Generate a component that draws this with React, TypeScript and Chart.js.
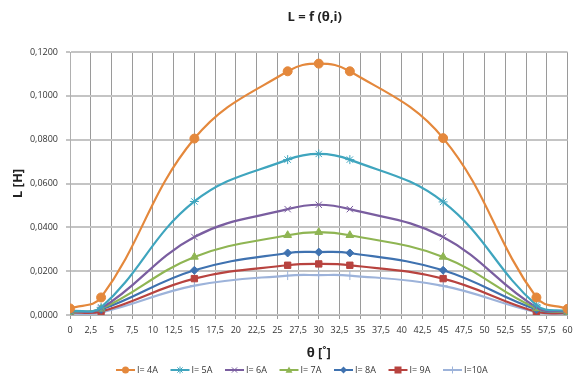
import React, { useEffect, useRef } from "react";
import { Chart, registerables } from "chart.js";

Chart.register(...registerables);

const thetaValues = [0, 3.75, 15, 26.25, 30, 33.75, 45, 56.25, 60];
const seriesNames = ["I= 4A", "I= 5A", "I= 6A", "I= 7A", "I= 8A", "I= 9A", "I=10A"];
const l4A = [0.003, 0.008, 0.0805, 0.1112, 0.1147, 0.1112, 0.0807, 0.008, 0.0028];
const l5A = [0.0018, 0.0035, 0.0518, 0.0709, 0.0735, 0.0709, 0.0516, 0.0045, 0.0018];
const l6A = [0.0015, 0.003, 0.0356, 0.0483, 0.0503, 0.0483, 0.0356, 0.0035, 0.0015];
const l7A = [0.0013, 0.0028, 0.0265, 0.0364, 0.0378, 0.0364, 0.0265, 0.003, 0.0013];
const l8A = [0.0012, 0.0025, 0.0204, 0.0283, 0.0287, 0.0283, 0.0204, 0.0025, 0.0012];
const l9A = [0.0012, 0.0016, 0.0166, 0.0227, 0.0233, 0.0227, 0.0166, 0.0015, 0.0008];
const l10A = [0.0005, 0.0012, 0.0134, 0.018, 0.0182, 0.018, 0.0133, 0.0013, 0.0005];
const seriesValues = [l4A, l5A, l6A, l7A, l8A, l9A, l10A];
const seriesColors = ["#E4883C", "#3FA5BE", "#7A5EA0", "#8FB553", "#3F72B0", "#B8433F", "#9DB3DA"];
const seriesMarkers = ["circle", "star", "crossRot", "triangle", "rectRot", "rect", "cross"];
const seriesMarkerSizes = [4.5, 4.5, 4.5, 4.5, 4, 4.5, 4.5];
const xTickStep = 2.5;
const yTickStep = 0.02;

const FONT = "'Open Sans', 'Liberation Sans', sans-serif";

function drawPoint(ctx: any, style: string, r: number, x: number, y: number, color: string) {
  ctx.save();
  ctx.fillStyle = color;
  ctx.strokeStyle = color;
  ctx.lineWidth = 1;
  ctx.beginPath();
  if (style === "circle") {
    ctx.arc(x, y, r, 0, Math.PI * 2);
    ctx.fill();
  } else if (style === "rect") {
    ctx.fillRect(x - r, y - r, 2 * r, 2 * r);
  } else if (style === "rectRot") {
    ctx.moveTo(x, y - r);
    ctx.lineTo(x + r, y);
    ctx.lineTo(x, y + r);
    ctx.lineTo(x - r, y);
    ctx.closePath();
    ctx.fill();
  } else if (style === "triangle") {
    ctx.moveTo(x, y - r);
    ctx.lineTo(x + r, y + r * 0.8);
    ctx.lineTo(x - r, y + r * 0.8);
    ctx.closePath();
    ctx.fill();
  } else if (style === "cross") {
    ctx.moveTo(x - r, y);
    ctx.lineTo(x + r, y);
    ctx.moveTo(x, y - r);
    ctx.lineTo(x, y + r);
    ctx.stroke();
  } else if (style === "crossRot") {
    const d = r * 0.75;
    ctx.moveTo(x - d, y - d);
    ctx.lineTo(x + d, y + d);
    ctx.moveTo(x + d, y - d);
    ctx.lineTo(x - d, y + d);
    ctx.stroke();
  } else if (style === "star") {
    const d = r * 0.75;
    ctx.moveTo(x - r, y);
    ctx.lineTo(x + r, y);
    ctx.moveTo(x, y - r);
    ctx.lineTo(x, y + r);
    ctx.moveTo(x - d, y - d);
    ctx.lineTo(x + d, y + d);
    ctx.moveTo(x + d, y - d);
    ctx.lineTo(x - d, y + d);
    ctx.stroke();
  }
  ctx.restore();
}

const textPlugin = {
  id: "texts",
  afterDraw(chart: any) {
    const ctx = chart.ctx;
    const ca = chart.chartArea;
    const cx = (ca.left + ca.right) / 2;
    ctx.save();
    ctx.fillStyle = "#222";
    ctx.textAlign = "center";
    ctx.textBaseline = "middle";
    ctx.font = `bold 13px ${FONT}`;
    ctx.fillText("L = f (θ,i)", cx - 4, 17);
    ctx.fillText("θ [˚]", cx, 353);
    ctx.save();
    ctx.translate(18, (ca.top + ca.bottom) / 2);
    ctx.rotate(-Math.PI / 2);
    ctx.fillText("L [H]", 0, 0);
    ctx.restore();

    ctx.font = `9px ${FONT}`;
    ctx.textAlign = "left";
    const ly = 370;
    chart.data.datasets.forEach((ds: any, i: number) => {
      const x0 = 116 + i * 54.5;
      ctx.strokeStyle = ds.borderColor;
      ctx.lineWidth = 2;
      ctx.beginPath();
      ctx.moveTo(x0, ly);
      ctx.lineTo(x0 + 19, ly);
      ctx.stroke();
      drawPoint(ctx, ds.pointStyle, 3.5, x0 + 9.5, ly, ds.borderColor);
      ctx.fillStyle = "#333";
      ctx.fillText(ds.label, x0 + 21, ly + 0.5);
    });
    ctx.restore();
  },
};

export default function App() {
  const ref = useRef<HTMLCanvasElement | null>(null);
  useEffect(() => {
    if (!ref.current) return;
    const datasets = seriesValues.map((vals, i) => ({
      label: seriesNames[i],
      data: thetaValues.map((t, j) => ({ x: t, y: vals[j] })),
      borderColor: seriesColors[i],
      backgroundColor: seriesColors[i],
      borderWidth: 2.2,
      pointStyle: seriesMarkers[i],
      pointRadius: seriesMarkerSizes[i],
      pointBorderWidth: 1,
      pointBackgroundColor: seriesColors[i],
      pointBorderColor: seriesColors[i],
      tension: 0.4,
      fill: false,
    }));
    const chart = new Chart(ref.current, {
      type: "line",
      data: { datasets },
      options: {
        animation: false,
        responsive: false,
        maintainAspectRatio: false,
        layout: { padding: { left: 0, right: 3, top: 52, bottom: 0 } },
        plugins: {
          legend: { display: false },
          title: { display: false },
          tooltip: { enabled: false },
        },
        scales: {
          x: {
            type: "linear",
            min: 0,
            max: 60,
            afterFit: (s: any) => {
              s.height = 61;
              s.paddingRight = 0;
              s.paddingLeft = 0;
            },
            ticks: {
              stepSize: xTickStep,
              autoSkip: false,
              maxRotation: 0,
              padding: 6,
              color: "#333",
              font: { family: FONT, size: 9 },
              callback: (v: any) => String(Number(v)).replace(".", ","),
            },
            grid: { color: "#9a9a9a", lineWidth: 1, drawTicks: true, tickLength: 4 },
            border: { color: "#b0b0b0", width: 1 },
          },
          y: {
            min: 0,
            max: 0.12,
            afterFit: (s: any) => {
              s.width = 70;
              s.paddingTop = 0;
              s.paddingBottom = 0;
            },
            ticks: {
              stepSize: yTickStep,
              padding: 8,
              color: "#333",
              font: { family: FONT, size: 9 },
              callback: (v: any) => Number(v).toFixed(4).replace(".", ","),
            },
            grid: { color: "#c4c4c4", lineWidth: 2, drawTicks: true, tickLength: 4 },
            border: { color: "#b0b0b0", width: 1 },
          },
        },
      } as any,
      plugins: [textPlugin],
    });
    return () => chart.destroy();
  }, []);
  return (
    <div style={{ position: "fixed", left: 0, top: 0, width: 573, height: 376, background: "#fff" }}>
      <canvas ref={ref} width={573} height={376} style={{ width: 573, height: 376, display: "block" }} />
    </div>
  );
}
